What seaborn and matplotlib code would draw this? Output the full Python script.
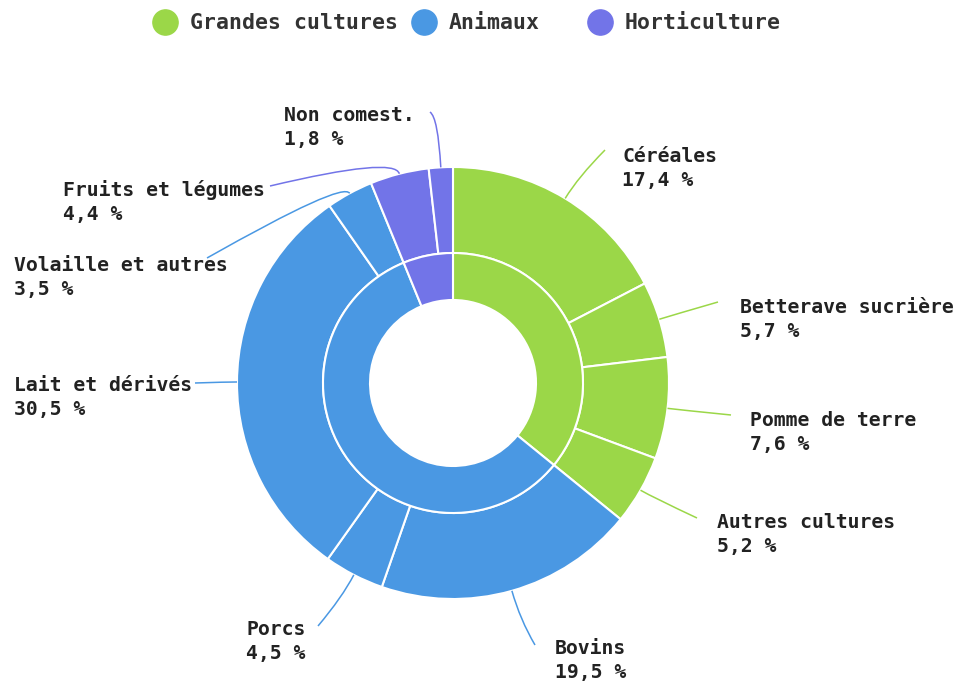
import numpy as np
import matplotlib
matplotlib.use("Agg")
import matplotlib.pyplot as plt
from matplotlib.path import Path
from matplotlib.patches import PathPatch
import seaborn as sns

# données
groups = ["Grandes cultures", "Animaux", "Horticulture"]
group_colors = ["#9bd748", "#4a98e3", "#7274e8"]

items = ["Céréales", "Betterave sucrière", "Pomme de terre", "Autres cultures",
         "Bovins", "Porcs", "Lait et dérivés", "Volaille et autres",
         "Fruits et légumes", "Non comest."]
item_values = [17.4, 5.7, 7.6, 5.2, 19.5, 4.5, 30.5, 3.5, 4.4, 1.8]
item_group = [0, 0, 0, 0, 1, 1, 1, 1, 2, 2]

group_values = [sum(v for v, g in zip(item_values, item_group) if g == i)
                for i in range(len(groups))]

# mise en page des étiquettes (pixels) : coin haut-gauche du texte, bout de la ligne, longueur radiale
label_text_pos = [(622, 147), (740, 298), (750, 411), (717, 513), (555, 639),
                  (246, 620), (14, 376), (14, 256), (63, 180), (284, 106)]
label_line_end = [(605, 150), (718, 302), (731, 415), (697, 518), (535, 645),
                  (318, 626), (195, 383), (207, 258), (270, 186), (430, 112)]
label_radial = [25, 15, 15, 15, 30, 25, 10, 14, 18, 50]

sns.set_theme(style="white")
plt.rcParams["font.family"] = ["DejaVu Sans Mono", "DejaVu Sans"]

W, H = 963, 686
fig = plt.figure(figsize=(W / 100, H / 100), dpi=100)
ax = fig.add_axes([0, 0, 1, 1])

cx, cy = 453, 383
r_out, r_mid, r_in = 216, 130, 83

pal = sns.color_palette(group_colors)
outer_colors = [pal[g] for g in item_group]

ax.pie(item_values, radius=r_out, center=(cx, cy), colors=outer_colors,
       startangle=-90, counterclock=True,
       wedgeprops=dict(width=r_out - r_mid, edgecolor="white", linewidth=1.5))
ax.pie(group_values, radius=r_mid, center=(cx, cy), colors=pal,
       startangle=-90, counterclock=True,
       wedgeprops=dict(width=r_mid - r_in, edgecolor="white", linewidth=1.5))

ax.set_xlim(0, W)
ax.set_ylim(H, 0)
ax.set_aspect("auto")
ax.axis("off")

# lignes de rappel + étiquettes
total = sum(item_values)
cum = np.cumsum([0] + item_values)
for i, name in enumerate(items):
    phi = 2 * np.pi * (cum[i] + item_values[i] / 2) / total
    dx, dy = np.sin(phi), -np.cos(phi)
    p0 = (cx + r_out * dx, cy + r_out * dy)
    p1 = (p0[0] + label_radial[i] * dx, p0[1] + label_radial[i] * dy)
    p2 = label_line_end[i]
    path = Path([p0, p1, p2], [Path.MOVETO, Path.CURVE3, Path.CURVE3])
    ax.add_patch(PathPatch(path, fill=False, edgecolor=outer_colors[i], lw=1.1))
    pct = f"{item_values[i]:.1f}".replace(".", ",") + " %"
    tx, ty = label_text_pos[i]
    ax.text(tx, ty, f"{name}\n{pct}", ha="left", va="top", fontsize=14.2,
            fontweight="bold", color="#222222", linespacing=1.36)

# légende
legend_x = [165, 424, 600]
for i, g in enumerate(groups):
    ax.scatter([legend_x[i]], [22], s=330, color=pal[i], zorder=5)
    ax.text(legend_x[i] + 25, 23, g, ha="left", va="center", fontsize=15.5,
            fontweight="bold", color="#333333")

fig.savefig("out.png", dpi=100)
